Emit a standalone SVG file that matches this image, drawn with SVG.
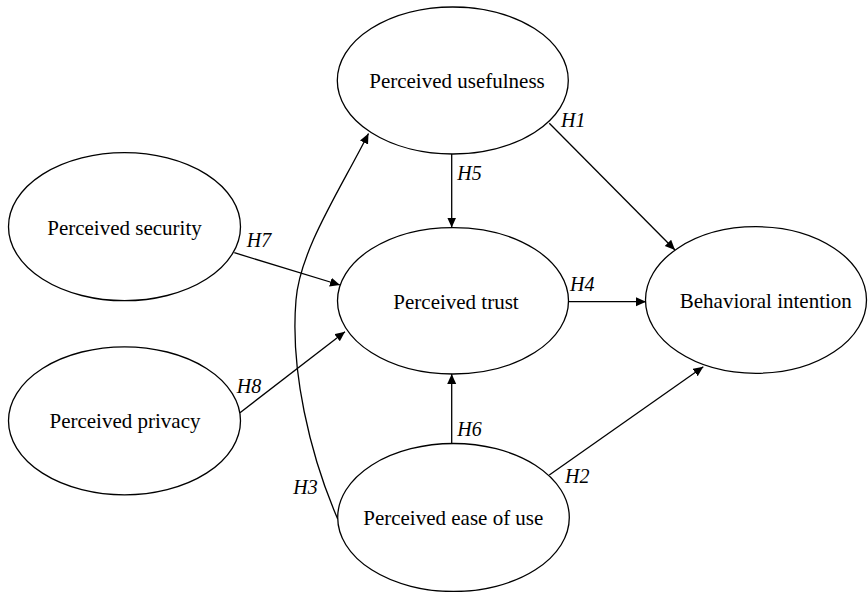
<svg xmlns="http://www.w3.org/2000/svg" width="868" height="592" viewBox="0 0 868 592">
<style>
.node{fill:#fff;stroke:#000;stroke-width:1.3}
.lbl{font-family:"Liberation Serif","Times New Roman",serif;font-size:21px;fill:#000;text-anchor:middle}
.h{font-family:"Liberation Serif","Times New Roman",serif;font-size:20px;font-style:italic;fill:#000}
.c{fill:none;stroke:#000;stroke-width:1.3}
</style>
<defs>
<marker id="arr" markerUnits="userSpaceOnUse" markerWidth="11" markerHeight="10" refX="10" refY="4.5" orient="auto">
<path d="M0,0 L10,4.5 L0,9 z" fill="#000"/>
</marker>
</defs>
<rect width="868" height="592" fill="#fff"/>
<g id="connectors">
<path class="c" d="M549.3,123.3 L675,250" marker-end="url(#arr)"/>
<path class="c" d="M451.7,154 L451.7,227.5" marker-end="url(#arr)"/>
<path class="c" d="M234.3,252.7 L340,285" marker-end="url(#arr)"/>
<path class="c" d="M240,412.7 L345,331.7" marker-end="url(#arr)"/>
<path class="c" d="M568.3,301.7 L646,301.7" marker-end="url(#arr)"/>
<path class="c" d="M451.7,443.5 L451.7,374" marker-end="url(#arr)"/>
<path class="c" d="M549.3,475 L703.3,366.7" marker-end="url(#arr)"/>
<path class="c" d="M337.7,519 C310,455 290,370 296,300 C300,250 340,190 368.5,133.5" marker-end="url(#arr)"/>
<text class="h" x="561" y="127">H1</text>
<text class="h" x="457.3" y="180">H5</text>
<text class="h" x="246.7" y="246.7">H7</text>
<text class="h" x="570" y="290.7">H4</text>
<text class="h" x="236.7" y="392.7">H8</text>
<text class="h" x="457.3" y="436">H6</text>
<text class="h" x="565" y="483.3">H2</text>
<text class="h" x="293.3" y="494">H3</text>
</g>
<g id="usefulness">
<ellipse class="node" cx="452.8" cy="80.5" rx="115.5" ry="73.5"/>
<text class="lbl" x="457" y="88">Perceived usefulness</text>
</g>
<g id="security">
<ellipse class="node" cx="124.5" cy="226.7" rx="116" ry="74"/>
<text class="lbl" x="124.5" y="235">Perceived security</text>
</g>
<g id="trust">
<ellipse class="node" cx="453" cy="300.8" rx="115.5" ry="73.2"/>
<text class="lbl" x="456" y="309">Perceived trust</text>
</g>
<g id="intention">
<ellipse class="node" cx="756" cy="300" rx="110.5" ry="73.3"/>
<text class="lbl" x="765.8" y="307.7">Behavioral intention</text>
</g>
<g id="privacy">
<ellipse class="node" cx="124.5" cy="420.8" rx="116" ry="74"/>
<text class="lbl" x="125" y="428.3">Perceived privacy</text>
</g>
<g id="ease">
<ellipse class="node" cx="453.5" cy="517.5" rx="115.8" ry="74"/>
<text class="lbl" x="453.3" y="525">Perceived ease of use</text>
</g>
</svg>
